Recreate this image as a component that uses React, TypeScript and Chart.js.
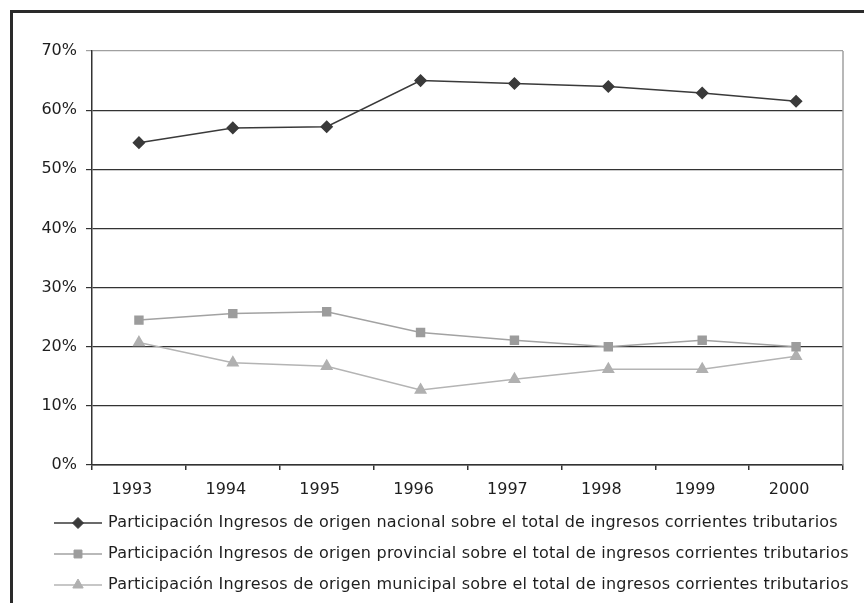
import React, { useEffect, useRef } from "react";
import { Chart, registerables } from "chart.js";
import { drawPoint } from "chart.js/helpers";

Chart.register(...registerables);

const years = ["1993", "1994", "1995", "1996", "1997", "1998", "1999", "2000"];
const nacional = [54.5, 57.0, 57.2, 65.0, 64.5, 64.0, 62.9, 61.5];
const provincial = [24.5, 25.6, 25.9, 22.4, 21.1, 20.0, 21.1, 20.0];
const municipal = [20.7, 17.3, 16.7, 12.7, 14.5, 16.2, 16.2, 18.4];
const seriesLabels = [
  "Participación Ingresos de origen nacional sobre el total de ingresos corrientes tributarios",
  "Participación Ingresos de origen provincial sobre el total de ingresos corrientes tributarios",
  "Participación Ingresos de origen municipal sobre el total de ingresos corrientes tributarios",
];

const FONT = "'DejaVu Sans', 'Liberation Sans', Arial, sans-serif";

const legendPlugin = {
  id: "lineLegend",
  afterDraw(chart: any) {
    const ctx = chart.ctx;
    const area = chart.chartArea;
    const x0 = area.left - 38;
    const x1 = area.left + 10;
    const xm = (x0 + x1) / 2;
    const tx = area.left + 16;
    chart.data.datasets.forEach((ds: any, i: number) => {
      const y = area.bottom + 58 + i * 31;
      ctx.save();
      ctx.strokeStyle = ds.borderColor;
      ctx.lineWidth = ds.borderWidth;
      ctx.beginPath();
      ctx.moveTo(x0, y);
      ctx.lineTo(x1, y);
      ctx.stroke();
      ctx.fillStyle = ds.pointBackgroundColor;
      ctx.strokeStyle = ds.pointBorderColor;
      ctx.lineWidth = 1;
      drawPoint(ctx, { pointStyle: ds.pointStyle, radius: ds.pointRadius, rotation: 0, borderWidth: 1 } as any, xm, y);
      ctx.restore();
      ctx.save();
      ctx.fillStyle = "#1e1e1e";
      ctx.font = `16px ${FONT}`;
      (ctx as any).letterSpacing = "0.22px";
      ctx.textBaseline = "middle";
      ctx.textAlign = "left";
      ctx.fillText(ds.label, tx, y);
      ctx.restore();
    });
  },
};

const framePlugin = {
  id: "plotFrame",
  afterDatasetsDraw(chart: any) {
    const { ctx, chartArea } = chart;
    ctx.save();
    ctx.strokeStyle = "#a0a0a0";
    ctx.lineWidth = 1.5;
    ctx.beginPath();
    ctx.moveTo(chartArea.right, chartArea.top);
    ctx.lineTo(chartArea.right, chartArea.bottom);
    ctx.stroke();
    ctx.restore();
  },
};

export default function App() {
  const ref = useRef<HTMLCanvasElement | null>(null);
  useEffect(() => {
    if (!ref.current) return;
    const chart = new Chart(ref.current, {
      type: "line",
      data: {
        labels: years,
        datasets: [
          {
            label: seriesLabels[0],
            data: nacional,
            borderColor: "#3a3a3a",
            backgroundColor: "#3a3a3a",
            pointBackgroundColor: "#3a3a3a",
            pointBorderColor: "#3a3a3a",
            borderWidth: 1.5,
            pointStyle: "rectRot",
            pointRadius: 5.5,
            tension: 0,
          },
          {
            label: seriesLabels[1],
            data: provincial,
            borderColor: "#a2a2a2",
            backgroundColor: "#9c9c9c",
            pointBackgroundColor: "#9c9c9c",
            pointBorderColor: "#9c9c9c",
            borderWidth: 1.5,
            pointStyle: "rect",
            pointRadius: 5.6,
            tension: 0,
          },
          {
            label: seriesLabels[2],
            data: municipal,
            borderColor: "#b4b4b4",
            backgroundColor: "#b0b0b0",
            pointBackgroundColor: "#b0b0b0",
            pointBorderColor: "#b0b0b0",
            borderWidth: 1.5,
            pointStyle: "triangle",
            pointRadius: 6,
            tension: 0,
          },
        ] as any,
      },
      options: {
        animation: false,
        responsive: false,
        maintainAspectRatio: false,
        layout: { padding: { left: 0, top: 51, right: 21, bottom: 0 } },
        plugins: {
          legend: { display: false },
          tooltip: { enabled: false },
          title: { display: false },
        },
        scales: {
          x: {
            offset: true,
            afterFit: (s: any) => {
              s.height = 138;
            },
            grid: {
              offset: true,
              drawOnChartArea: false,
              drawTicks: true,
              tickLength: 5,
              color: "#333",
              lineWidth: 1.5,
            },
            border: { color: "#333", width: 1.5 },
            ticks: {
              color: "#1e1e1e",
              font: { family: FONT, size: 16 },
              padding: 10,
              labelOffset: -7,
              maxRotation: 0,
            },
          },
          y: {
            min: 0,
            max: 70,
            afterFit: (s: any) => {
              s.width = 92;
            },
            grid: {
              color: (c: any) => (c.tick && c.tick.value === 70 ? "#a0a0a0" : "#333"),
              lineWidth: 1.2,
              tickLength: 6,
            },
            border: { color: "#333", width: 1.5 },
            ticks: {
              stepSize: 10,
              color: "#1e1e1e",
              font: { family: FONT, size: 16 },
              padding: 9,
              callback: (v: any) => `${v}%`,
            },
          },
        },
      },
      plugins: [framePlugin, legendPlugin],
    });
    return () => chart.destroy();
  }, []);

  return (
    <div
      style={{
        position: "fixed",
        left: 0,
        top: 0,
        width: 864,
        height: 603,
        overflow: "hidden",
        background: "#fff",
      }}
    >
      <div
        style={{
          position: "absolute",
          left: 10,
          top: 10,
          width: 900,
          height: 700,
          borderLeft: "3px solid #2a2a2a",
          borderTop: "3px solid #2a2a2a",
        }}
      />
      <canvas
        ref={ref}
        width={864}
        height={603}
        style={{ position: "absolute", left: 0, top: 0, width: 864, height: 603 }}
      />
    </div>
  );
}
